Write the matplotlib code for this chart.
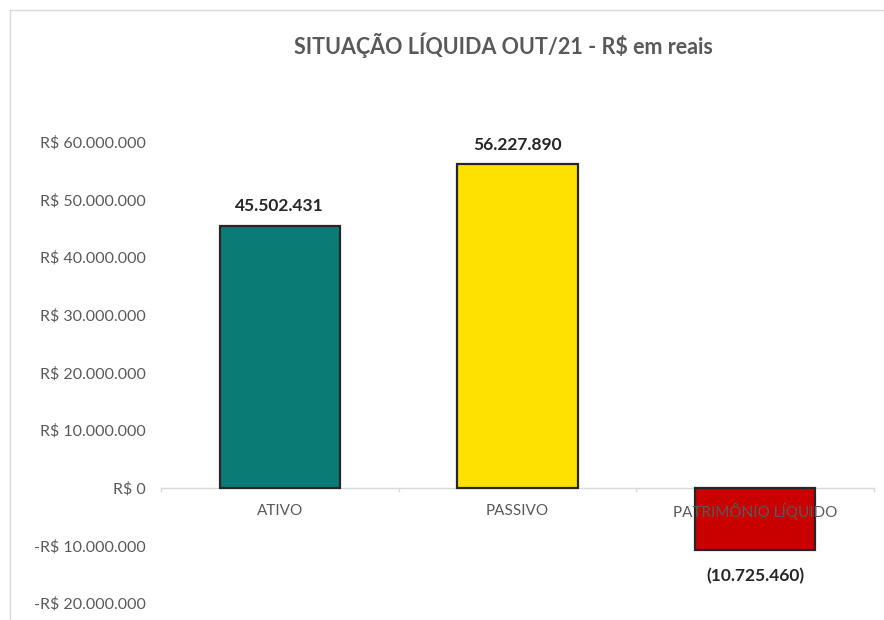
import matplotlib
matplotlib.use("Agg")
import matplotlib.pyplot as plt
from matplotlib.patches import Rectangle

categories = ["ATIVO", "PASSIVO", "PATRIMÔNIO LÍQUIDO"]
values = [45502431, 56227890, -10725460]
colors = ["#0B7B76", "#FFE100", "#C80000"]
yticks = [-20000000, -10000000, 0, 10000000, 20000000, 30000000, 40000000, 50000000, 60000000]
title = "SITUAÇÃO LÍQUIDA OUT/21 - R$ em reais"

def fmt_money(v):
    s = f"{abs(int(v)):,}".replace(",", ".")
    return ("-R$ " if v < 0 else "R$ ") + s

def fmt_label(v):
    s = f"{abs(int(v)):,}".replace(",", ".")
    return f"({s})" if v < 0 else s

plt.rcParams['font.family'] = ['Lato', 'DejaVu Sans']

W, H = 884, 620
fig = plt.figure(figsize=(W/100, H/100), dpi=100)
fig.patches.append(Rectangle((10/W, -0.1), 1.2, 1 - 10/H + 0.1, transform=fig.transFigure,
                             fill=False, edgecolor="#D9D9D9", linewidth=1))

ax = fig.add_axes([161/W, 1 - 603/H, (874-161)/W, (603-142)/H])
x = range(len(categories))
bars = ax.bar(x, values, width=0.505, color=colors, edgecolor="#262626", linewidth=1.6, zorder=3)
ax.set_xlim(-0.5, 2.5)
ax.set_ylim(-20000000, 60000000)
ax.set_yticks(yticks)
ax.set_yticklabels([fmt_money(v) for v in yticks], fontsize=11.5, color="#595959")
ax.tick_params(axis='y', length=0, pad=11)

for s in ["top", "right", "left", "bottom"]:
    ax.spines[s].set_visible(False)
ax.axhline(0, color="#D9D9D9", linewidth=1, zorder=2)
ax.set_xticks([])
for b in [-0.5, 0.5, 1.5, 2.5]:
    ax.plot([b, b], [0, -600000], color="#D9D9D9", linewidth=1, zorder=2, clip_on=False)
for i, c in enumerate(categories):
    ax.annotate(c, (i, 0), xytext=(0, -17), textcoords="offset points",
                ha="center", va="center", fontsize=11, color="#595959", zorder=4)

for i, v in enumerate(values):
    if v >= 0:
        ax.annotate(fmt_label(v), (i, v), xytext=(0, 8), textcoords="offset points",
                    ha="center", va="bottom", fontsize=12.5, fontweight="bold", color="#262626")
    else:
        ax.annotate(fmt_label(v), (i, v), xytext=(0, -13), textcoords="offset points",
                    ha="center", va="top", fontsize=12.5, fontweight="bold", color="#262626")

fig.text(0.57, 1 - 45/H, title, ha="center", va="center", fontsize=15.5,
         fontweight="bold", color="#595959")

fig.savefig("out.png", dpi=100)
